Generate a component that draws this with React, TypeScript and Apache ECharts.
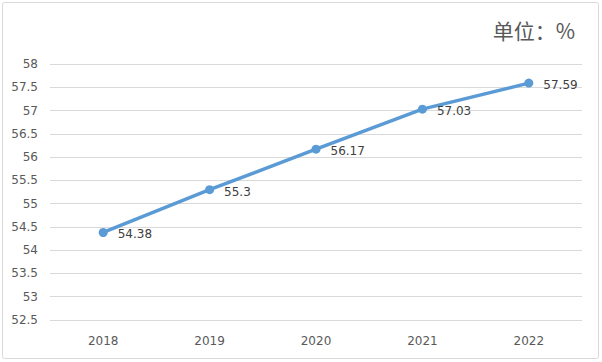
import React, { useEffect, useRef } from "react";
import * as echarts from "echarts";

const years = ["2018", "2019", "2020", "2021", "2022"];
const values = [54.38, 55.3, 56.17, 57.03, 57.59];
const unitText = "单位：%";

export default function App() {
  const ref = useRef<HTMLDivElement>(null);
  useEffect(() => {
    const chart = echarts.init(ref.current!, null, { renderer: "svg" });
    chart.setOption({
      animation: false,
      backgroundColor: "#ffffff",
      textStyle: { fontFamily: "'Noto Sans CJK SC', 'DejaVu Sans', sans-serif" },
      title: {
        text: unitText,
        right: 22,
        top: 14,
        textStyle: { fontSize: 21, fontWeight: "normal", color: "#595959", fontFamily: "'Noto Sans CJK SC', sans-serif" },
      },
      graphic: [
        {
          type: "rect",
          shape: { x: 2.5, y: 2.5, width: 596, height: 356, r: 2 },
          style: { fill: "none", stroke: "#d9d9d9", lineWidth: 1 },
          silent: true,
        },
      ],
      grid: { left: 50, right: 20, top: 64, bottom: 42, containLabel: false },
      xAxis: {
        type: "category",
        data: years,
        boundaryGap: true,
        axisLine: { show: false },
        axisTick: { show: false },
        axisLabel: { color: "#595959", fontSize: 12, margin: 15, fontFamily: "'DejaVu Sans', sans-serif" },
      },
      yAxis: {
        type: "value",
        min: 52.5,
        max: 58,
        interval: 0.5,
        axisLine: { show: false },
        axisTick: { show: false },
        axisLabel: { color: "#595959", fontSize: 12, margin: 12, fontFamily: "'DejaVu Sans', sans-serif" },
        splitLine: { lineStyle: { color: "#d9d9d9", width: 1 } },
      },
      series: [
        {
          type: "line",
          data: values,
          symbol: "circle",
          symbolSize: 9,
          lineStyle: { color: "#5b9bd5", width: 3.5 },
          itemStyle: { color: "#5b9bd5" },
          label: {
            show: true,
            position: "right",
            distance: 10,
            offset: [0, 2],
            color: "#404040",
            fontSize: 12,
            fontFamily: "'DejaVu Sans', sans-serif",
          },
        },
      ],
    });
    return () => chart.dispose();
  }, []);
  return <div ref={ref} style={{ position: "absolute", left: 0, top: 0, width: 602, height: 362 }} />;
}
